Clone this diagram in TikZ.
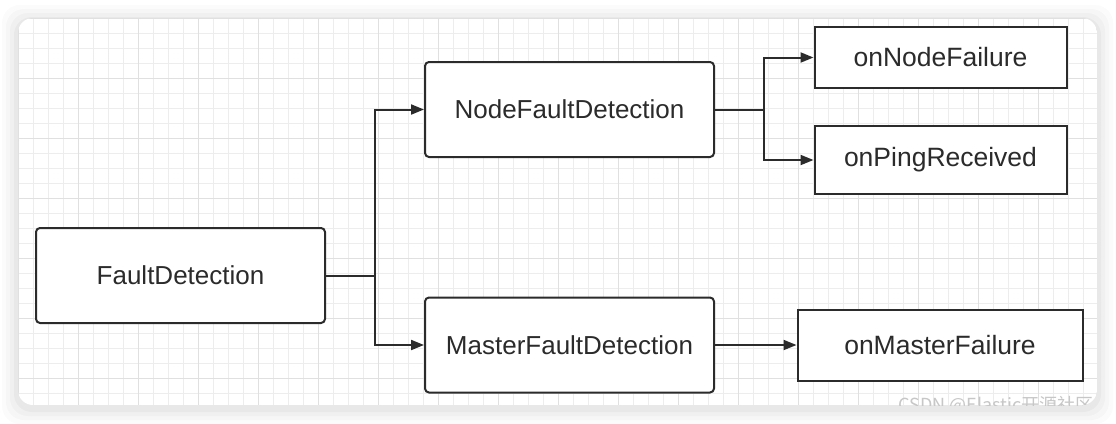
\documentclass[tikz,border=0pt]{standalone}
\usepackage{fontspec}
\setmainfont{Liberation Sans}
\newfontfamily\cjk{Noto Sans CJK SC}
\usetikzlibrary{arrows.meta}
\definecolor{ink}{HTML}{2B2B2B}
\begin{document}
\begin{tikzpicture}[x=1pt,y=-1pt,
    box/.style={draw=ink,line width=2pt,fill=white,rounded corners=4pt,
      minimum width=289pt,minimum height=95pt,text=ink,
      font=\fontsize{26}{30}\selectfont},
    leaf/.style={draw=ink,line width=2pt,fill=white,text=ink,
      font=\fontsize{26.5}{30}\selectfont},
    link/.style={draw=ink,line width=2pt,-{Triangle[length=13pt,width=10pt]}}]
  \useasboundingbox (0,0) rectangle (1116,423);
  \fill[white] (0,0) rectangle (1116,423);
  \foreach \s/\o in {16/0.015,12/0.02,8/0.025,4/0.03}{
    \fill[black,opacity=\o,rounded corners=18pt] (18-\s,18-\s+3) rectangle (1097+\s,405+\s+3);
  }
  \begin{scope}
    \clip[rounded corners=15pt] (18,18) rectangle (1097,405);
    \fill[white] (18,18) rectangle (1097,405);
    \foreach \x in {18,33,...,1098}{
      \draw[black!7,line width=0.8pt] (\x,18) -- (\x,405);
    }
    \foreach \y in {18,33,...,406}{
      \draw[black!7,line width=0.8pt] (18,\y) -- (1097,\y);
    }
    \foreach \x in {18,78,...,1098}{
      \draw[black!12,line width=0.8pt] (\x,18) -- (\x,405);
    }
    \foreach \y in {18,78,...,406}{
      \draw[black!12,line width=0.8pt] (18,\y) -- (1097,\y);
    }
    \node[text=black!22,font=\cjk\fontsize{18}{20}\selectfont,anchor=base east] (mark) at (1097,411) {CSDN @Elastic开源社区};
  \end{scope}

  \node[box] (fault) at (180.5,275.5) {FaultDetection};
  \node[box] (nodefd) at (569.5,109.5) {NodeFaultDetection};
  \node[box] (masterfd) at (569.5,345) {MasterFaultDetection};
  \node[leaf,minimum width=252pt,minimum height=61pt] (nodefail) at (940.5,57.5) {onNodeFailure};
  \node[leaf,minimum width=252pt,minimum height=68pt] (ping) at (940.5,160) {onPingReceived};
  \node[leaf,minimum width=285pt,minimum height=71pt] (masterfail) at (940,345) {onMasterFailure};

  \coordinate (split1) at (375,275.5);
  \coordinate (split2) at (764,109.5);
  \draw[link] (fault.east) -- (split1) |- (nodefd.west);
  \draw[link] (split1) |- (masterfd.west);
  \draw[link] (nodefd.east) -- (split2) |- (nodefail.west);
  \draw[link] (split2) |- (ping.west);
  \draw[link] (masterfd.east) -- (masterfail.west);
\end{tikzpicture}
\end{document}
